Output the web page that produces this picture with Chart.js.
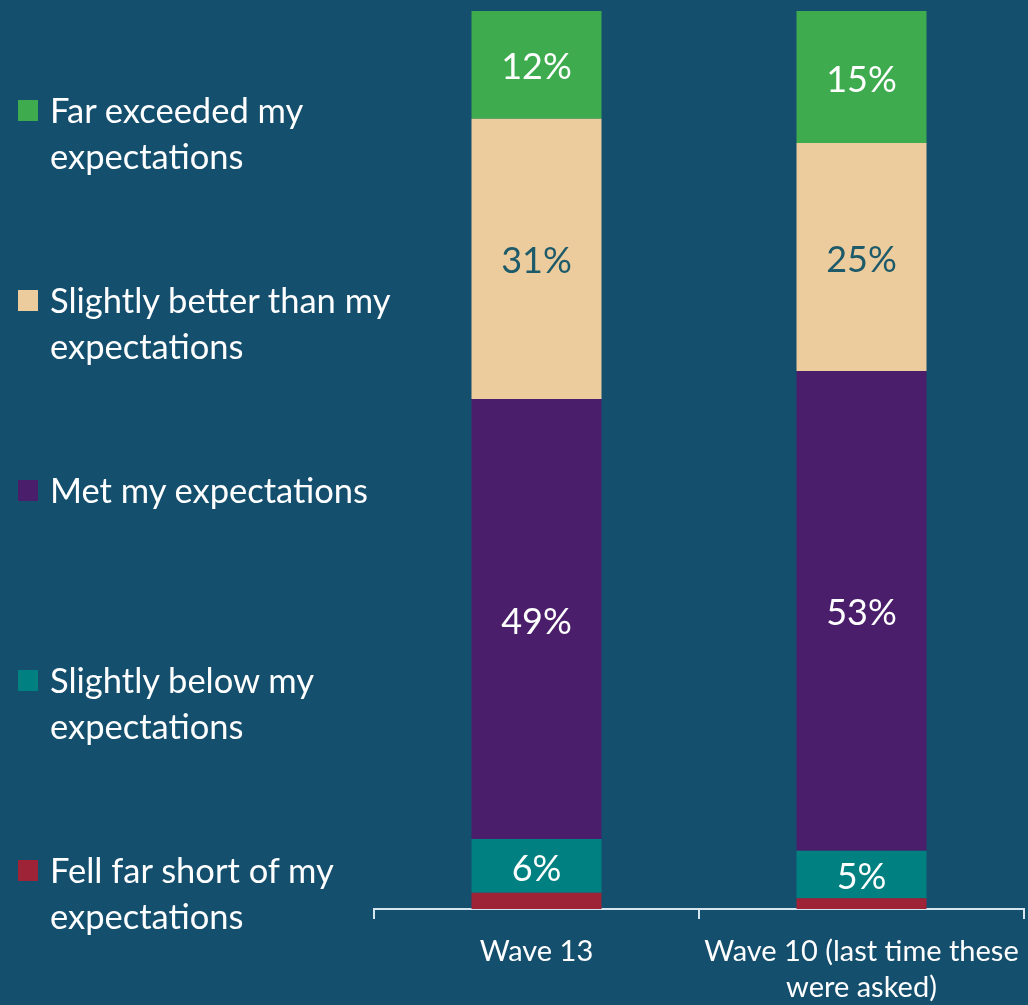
<!DOCTYPE html>
<html>
<head>
<meta charset="utf-8">
<script src="https://cdn.jsdelivr.net/npm/chart.js@4"></script>
<style>
  html, body { margin: 0; padding: 0; background: #154f6e; }
  #wrap { position: relative; width: 1028px; height: 1005px; }
  #legend { position: absolute; left: 0; top: 0; width: 420px; height: 1005px; }
  .item { position: absolute; left: 50px; font-family: Lato, sans-serif; font-size: 34.5px; line-height: 46px; color: #ffffff; white-space: nowrap; }
  .item span.box { position: absolute; left: -32px; top: 13px; width: 20px; height: 21px; }
</style>
</head>
<body>
<div id="wrap">
  <canvas id="chart" width="1028" height="1005"></canvas>
  <div id="legend"></div>
</div>
<script>
const categories = [['Wave 13'], ['Wave 10 (last time these', 'were asked)']];
const seriesNames = [
    'Fell far short of my expectations',
    'Slightly below my expectations',
    'Met my expectations',
    'Slightly better than my expectations',
    'Far exceeded my expectations'
];
// legend text as broken in the picture
const legendLines = [
    ['Far exceeded my', 'expectations'],
    ['Slightly better than my', 'expectations'],
    ['Met my expectations'],
    ['Slightly below my', 'expectations'],
    ['Fell far short of my', 'expectations']
];
const fellShort = [1.8, 1.2];
const slightlyBelow = [6.0, 5.3];
const metExp = [49.0, 53.4];
const slightlyBetter = [31.2, 25.4];
const farExceeded = [12.0, 14.7];
const colors = ['#9e2336', '#008080', '#4a1e6b', '#eccc9c', '#3fab4f'];
const labelColors = ['#ffffff', '#ffffff', '#ffffff', '#1d5a6a', '#ffffff'];

const seriesValues = [fellShort, slightlyBelow, metExp, slightlyBetter, farExceeded];

// legend on the left, top to bottom
const legendDiv = document.getElementById('legend');
legendLines.forEach((lines, i) => {
    const idx = seriesValues.length - 1 - i;
    const item = document.createElement('div');
    item.className = 'item';
    item.style.top = (87 + i * 190) + 'px';
    item.innerHTML = '<span class="box" style="background:' + colors[idx] + '"></span>' + lines.join('<br>');
    legendDiv.appendChild(item);
});

// percentage labels inside the segments
const barLabels = {
    id: 'barLabels',
    afterDatasetsDraw(chart) {
        const ctx = chart.ctx;
        ctx.save();
        ctx.font = '36px Lato, sans-serif';
        ctx.textAlign = 'center';
        ctx.textBaseline = 'middle';
        chart.data.datasets.forEach((ds, i) => {
            const meta = chart.getDatasetMeta(i);
            meta.data.forEach((bar, j) => {
                const v = ds.data[j];
                if (v < 3) return;
                ctx.fillStyle = labelColors[i];
                ctx.fillText(Math.round(v) + '%', bar.x, (bar.y + bar.base) / 2 + 3);
            });
        });
        ctx.restore();
    }
};

new Chart(document.getElementById('chart').getContext('2d'), {
    type: 'bar',
    data: {
        labels: categories,
        datasets: seriesValues.map((vals, i) => ({
            label: seriesNames[i],
            data: vals,
            backgroundColor: colors[i],
            borderWidth: 0,
            barPercentage: 0.4,
            categoryPercentage: 1
        }))
    },
    options: {
        responsive: false,
        animation: false,
        layout: { padding: { left: 374, right: 4, top: 11, bottom: 0 } },
        plugins: {
            legend: { display: false },
            tooltip: { enabled: false }
        },
        scales: {
            x: {
                stacked: true,
                afterFit: scale => {
                    scale.height = 96;
                    // long second label must not shrink the plot area
                    scale.paddingLeft = 0;
                    scale.paddingRight = 0;
                },
                grid: {
                    offset: true,
                    drawOnChartArea: false,
                    drawTicks: true,
                    tickLength: 10,
                    color: '#d6e6ee',
                    lineWidth: 2
                },
                border: { display: true, color: '#d6e6ee', width: 2 },
                ticks: {
                    color: '#ffffff',
                    font: { family: 'Lato, sans-serif', size: 29, lineHeight: 1.24 },
                    padding: 15,
                    maxRotation: 0
                }
            },
            y: {
                stacked: true,
                display: false,
                min: 0,
                max: 100
            }
        }
    },
    plugins: [barLabels]
});
</script>
</body>
</html>
